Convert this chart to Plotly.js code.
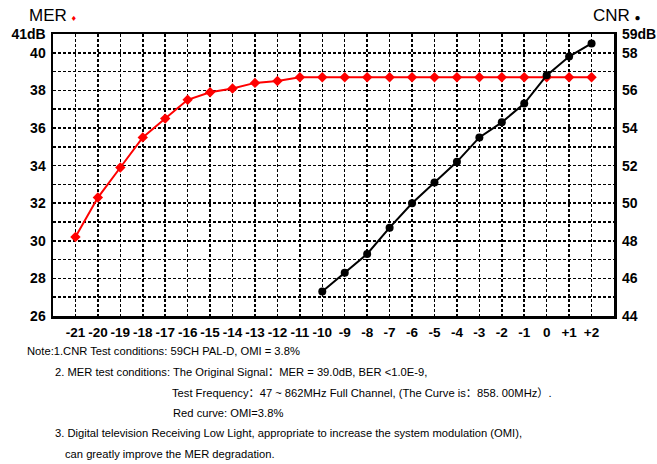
<!DOCTYPE html>
<html>
<head>
<meta charset="utf-8">
<script src="https://cdn.plot.ly/plotly-3.0.1.min.js"></script>
<style>html,body{margin:0;padding:0;background:#fff;}#chart{width:657px;height:464px;}</style>
</head>
<body>
<div id="chart"></div>
<script>
// x positions (attenuation steps)
const xSteps = [-21,-20,-19,-18,-17,-16,-15,-14,-13,-12,-11,-10,-9,-8,-7,-6,-5,-4,-3,-2,-1,0,1,2];
const xTickText = ['-21','-20','-19','-18','-17','-16','-15','-14','-13','-12','-11','-10','-9','-8','-7','-6','-5','-4','-3','-2','-1','0','+1','+2'];
// MER (left axis, dB)
const merValues = [30.2,32.3,33.9,35.5,36.5,37.5,37.9,38.1,38.4,38.5,38.7,38.7,38.7,38.7,38.7,38.7,38.7,38.7,38.7,38.7,38.7,38.7,38.7,38.7];
// CNR (right axis, dB)
const cnrX = [-10,-9,-8,-7,-6,-5,-4,-3,-2,-1,0,1,2];
const cnrValues = [45.3,46.3,47.3,48.7,50.0,51.1,52.2,53.5,54.3,55.3,56.8,57.8,58.5];
// axis tick labels
const leftTickVals = [26,27,28,29,30,31,32,33,34,35,36,37,38,39,40,41];
const leftTickText = ['26','','28','','30','','32','','34','','36','','38','','40','41dB'];
const rightTickVals = [44,45,46,47,48,49,50,51,52,53,54,55,56,57,58,59];
const rightTickText = ['44','','46','','48','','50','','52','','54','','56','','58','59dB'];
const noteLines = [
  'Note:1.CNR Test conditions: 59CH PAL-D, OMI = 3.8%',
  '2. MER test conditions: The Original Signal：MER = 39.0dB, BER <1.0E-9,',
  'Test Frequency：47 ~ 862MHz Full Channel, (The Curve is：858. 00MHz）.',
  'Red curve: OMI=3.8%',
  '3. Digital television Receiving Low Light, appropriate to increase the system modulation (OMI),',
  'can greatly improve the MER degradation.'
];

const W = 657, H = 464;
const L = 53, R = 614, T = 34, B = 316;
const px = x => (x - L) / (R - L);
const py = y => (B - y) / (B - T);

const xTickVals = [-22].concat(xSteps, [3]);
const xTickTxt = [''].concat(xTickText, ['']);

const tickFont = {family: 'Liberation Sans, Arial, sans-serif', size: 14, color: '#000', weight: 'bold'};
const xTickFont = {family: 'Liberation Sans, Arial, sans-serif', size: 13.5, color: '#000', weight: 'bold'};
const gridStyle = {showgrid: true, gridcolor: '#000', gridwidth: 1.5, griddash: '3px,2px'};

const traces = [
  {x: xSteps, y: merValues, type: 'scatter', mode: 'lines+markers', yaxis: 'y',
   line: {color: '#ff0000', width: 2}, marker: {symbol: 'diamond', size: 8, color: '#ff0000'}, cliponaxis: false},
  {x: cnrX, y: cnrValues, type: 'scatter', mode: 'lines+markers', yaxis: 'y2',
   line: {color: '#000', width: 2}, marker: {symbol: 'circle', size: 8, color: '#000'}, cliponaxis: false}
];

const noteFont = {family: 'Liberation Sans, Arial, Noto Sans CJK SC, sans-serif', size: 11.2, color: '#000'};
const notePos = [[25,351],[53,372],[170,393],[171,413],[53,433],[63,454]];
const annotations = notePos.map((p, i) => ({
  text: noteLines[i], xref: 'paper', yref: 'paper', x: px(p[0]), y: py(p[1]),
  xanchor: 'left', yanchor: 'middle', showarrow: false, font: noteFont
}));
annotations.push({text: 'MER <span style="color:#ff0000;font-size:9px">♦</span>', xref: 'paper', yref: 'paper',
  x: px(27), y: py(15), xanchor: 'left', yanchor: 'middle', showarrow: false,
  font: {family: 'Liberation Sans, Arial, sans-serif', size: 17, color: '#000'}});
annotations.push({text: 'CNR <span style="font-size:10px">●</span>', xref: 'paper', yref: 'paper',
  x: px(591), y: py(15), xanchor: 'left', yanchor: 'middle', showarrow: false,
  font: {family: 'Liberation Sans, Arial, sans-serif', size: 17, color: '#000'}});

const layout = {
  width: W, height: H,
  margin: {l: L, r: W - R, t: T, b: H - B, pad: 0},
  paper_bgcolor: '#fff', plot_bgcolor: '#fff',
  showlegend: false,
  xaxis: Object.assign({range: [-22, 3], tickmode: 'array', tickvals: xTickVals, ticktext: xTickTxt,
    showline: true, linecolor: '#000', linewidth: 2.5, mirror: true, zeroline: false, tickangle: 0,
    ticks: '', ticklabelstandoff: 2, tickfont: xTickFont, fixedrange: true}, gridStyle),
  yaxis: Object.assign({range: [26, 41], tickmode: 'array', tickvals: leftTickVals, ticktext: leftTickText,
    showline: true, linecolor: '#000', linewidth: 2.5, mirror: true, zeroline: false,
    ticks: '', ticklabelstandoff: 2, tickfont: tickFont, fixedrange: true}, gridStyle),
  yaxis2: {range: [44, 59], overlaying: 'y', side: 'right', tickmode: 'array', tickvals: rightTickVals, ticktext: rightTickText,
    showgrid: false, showline: false, zeroline: false, ticks: '', ticklabelstandoff: 7, tickfont: tickFont, fixedrange: true},
  annotations: annotations
};

Plotly.newPlot('chart', traces, layout, {displayModeBar: false, staticPlot: true});
</script>
</body>
</html>
